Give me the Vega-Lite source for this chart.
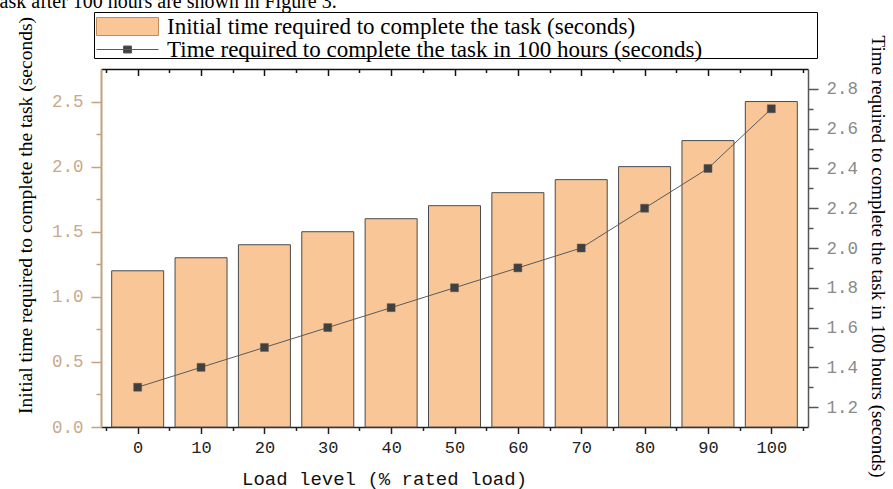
{
  "$schema": "https://vega.github.io/schema/vega-lite/v6.json",
  "width": 707,
  "height": 358,
  "autosize": "none",
  "padding": {"left": 101, "top": 69, "right": 85, "bottom": 62},
  "background": "white",
  "title": {
    "text": "task after 100 hours are shown in Figure 3.",
    "anchor": "start",
    "frame": "group",
    "orient": "top",
    "font": "Liberation Serif",
    "fontSize": 20,
    "fontWeight": "normal",
    "color": "#000000",
    "baseline": "alphabetic",
    "dx": -107,
    "dy": 21,
    "offset": 5
  },
  "data": {
    "values": [
      {"load": 0, "initial": 1.2, "hours100": 1.3},
      {"load": 10, "initial": 1.3, "hours100": 1.4},
      {"load": 20, "initial": 1.4, "hours100": 1.5},
      {"load": 30, "initial": 1.5, "hours100": 1.6},
      {"load": 40, "initial": 1.6, "hours100": 1.7},
      {"load": 50, "initial": 1.7, "hours100": 1.8},
      {"load": 60, "initial": 1.8, "hours100": 1.9},
      {"load": 70, "initial": 1.9, "hours100": 2.0},
      {"load": 80, "initial": 2.0, "hours100": 2.2},
      {"load": 90, "initial": 2.2, "hours100": 2.4},
      {"load": 100, "initial": 2.5, "hours100": 2.7}
    ]
  },
  "resolve": {
    "scale": {"y": "independent"},
    "axis": {"x": "independent", "y": "independent"}
  },
  "layer": [
    {
      "mark": {"type": "bar", "orient": "vertical", "width": 52, "stroke": "#4a4a4a", "strokeWidth": 1},
      "encoding": {
        "x": {
          "field": "load", "type": "quantitative",
          "scale": {"domain": [-5, 105], "nice": false, "zero": false},
          "axis": {
            "orient": "bottom", "values": [0, 10, 20, 30, 40, 50, 60, 70, 80, 90, 100], "format": "d",
            "grid": false, "tickSize": 6.5, "tickWidth": 1.5, "tickColor": "#222222",
            "domainColor": "#222222", "domainWidth": 1.5,
            "labelFont": "Liberation Mono", "labelFontSize": 17, "labelColor": "#222222",
            "labelBaseline": "alphabetic", "labelPadding": 19,
            "title": "Load level (% rated load)", "titleFont": "Liberation Mono", "titleFontSize": 19,
            "titleFontWeight": "normal", "titleColor": "#111111", "titleX": 283, "titleY": 57,
            "titleBaseline": "alphabetic"
          }
        },
        "y": {
          "field": "initial", "type": "quantitative",
          "scale": {"domain": [0, 2.75], "nice": false},
          "axis": {
            "orient": "left", "values": [0, 0.5, 1, 1.5, 2, 2.5], "format": ".1f", "grid": false,
            "tickSize": 10, "tickWidth": 1.5, "tickColor": "#C4A07E",
            "domainColor": "#C4A07E", "domainWidth": 2,
            "labelFont": "Liberation Mono", "labelFontSize": 17.5, "labelColor": "#C9A98B", "labelPadding": 8,
            "title": "Initial time required to complete the task (seconds)", "titleFont": "Liberation Serif",
            "titleFontSize": 19.5, "titleFontWeight": "normal", "titleColor": "#000000",
            "titleAngle": 270, "titleX": -70, "titleY": 146, "titleBaseline": "alphabetic"
          }
        },
        "fill": {
          "datum": "Initial time required to complete the task (seconds)",
          "scale": {"range": ["#F9C797"]},
          "legend": {
            "orient": "none", "legendX": -7, "legendY": -55, "direction": "vertical", "title": null,
            "labelFont": "Liberation Serif", "labelFontSize": 23, "labelColor": "#000000", "labelLimit": 0,
            "symbolSize": 400, "symbolOffset": 21, "labelOffset": 28, "padding": 1,
            "symbolType": "M-3.1,-0.9H3.1V0.9H-3.1Z",
            "symbolStrokeColor": "#C08A60", "symbolStrokeWidth": 1, "symbolOpacity": 1
          }
        }
      }
    },
    {
      "layer": [
        {
          "mark": {"type": "line", "color": "#5a5a5a", "strokeWidth": 1},
          "encoding": {
            "x": {"field": "load", "type": "quantitative", "axis": null},
            "y": {
              "field": "hours100", "type": "quantitative",
              "scale": {"domain": [1.1, 2.9], "nice": false, "zero": false},
              "axis": {
                "orient": "right", "values": [1.2, 1.4, 1.6, 1.8, 2.0, 2.2, 2.4, 2.6, 2.8], "format": ".1f", "grid": false,
                "tickSize": 10, "tickWidth": 1.5, "tickColor": "#555555",
                "domainColor": "#555555", "domainWidth": 1.5,
                "labelFont": "Liberation Mono", "labelFontSize": 17.5, "labelColor": "#8a8a8a", "labelPadding": 8,
                "title": "Time required to complete the task in 100 hours (seconds)", "titleFont": "Liberation Serif",
                "titleFontSize": 19, "titleFontWeight": "normal", "titleColor": "#000000",
                "titleAngle": 90, "titleX": 63, "titleY": 187, "titleBaseline": "alphabetic"
              }
            }
          }
        },
        {
          "mark": {"type": "point", "shape": "square", "filled": true, "fill": "#404040", "size": 64, "opacity": 1, "strokeWidth": 0.5},
          "encoding": {
            "x": {"field": "load", "type": "quantitative", "axis": null},
            "y": {"field": "hours100", "type": "quantitative"},
            "stroke": {
              "datum": "Time required to complete the task in 100 hours (seconds)",
              "scale": {"range": ["#5a5a5a"]},
              "legend": {
                "orient": "none", "legendX": -7, "legendY": -32, "direction": "vertical", "title": null,
                "labelFont": "Liberation Serif", "labelFontSize": 23, "labelColor": "#000000", "labelLimit": 0,
                "symbolSize": 400, "symbolOffset": 21, "labelOffset": 28, "padding": 1,
                "symbolType": "M-3.1,0H3.1M-0.4,-0.35H0.4V0.35H-0.4Z",
                "symbolFillColor": "#404040", "symbolStrokeWidth": 1, "symbolOpacity": 1
              }
            }
          }
        }
      ]
    },
    {
      "mark": {"type": "point", "opacity": 0},
      "encoding": {
        "x": {
          "field": "load", "type": "quantitative",
          "axis": {
            "orient": "bottom", "values": [-5, 5, 15, 25, 35, 45, 55, 65, 75, 85, 95, 105],
            "labels": false, "domain": false, "grid": false, "tickSize": 3.5, "tickWidth": 1.5,
            "tickColor": "#222222", "title": null
          }
        },
        "y": {
          "field": "initial", "type": "quantitative",
          "scale": {"domain": [0, 2.75], "nice": false},
          "axis": {
            "orient": "left", "values": [0.25, 0.75, 1.25, 1.75, 2.25],
            "labels": false, "domain": false, "grid": false, "tickSize": 5, "tickWidth": 1.5,
            "tickColor": "#C4A07E", "title": null
          }
        }
      }
    },
    {
      "mark": {"type": "point", "opacity": 0},
      "encoding": {
        "x": {
          "field": "load", "type": "quantitative",
          "axis": {
            "orient": "top", "values": [0, 10, 20, 30, 40, 50, 60, 70, 80, 90, 100],
            "labels": false, "grid": false, "tickSize": -6.5, "tickWidth": 1.5, "tickColor": "#111111",
            "domainColor": "#111111", "domainWidth": 1.5, "title": null
          }
        },
        "y": {
          "field": "hours100", "type": "quantitative",
          "scale": {"domain": [1.1, 2.9], "nice": false, "zero": false},
          "axis": {
            "orient": "right", "values": [1.3, 1.5, 1.7, 1.9, 2.1, 2.3, 2.5, 2.7],
            "labels": false, "domain": false, "grid": false, "tickSize": 5, "tickWidth": 1.5,
            "tickColor": "#555555", "title": null
          }
        }
      }
    },
    {
      "mark": {"type": "point", "filled": false, "size": 0},
      "encoding": {
        "x": {
          "field": "load", "type": "quantitative",
          "axis": {
            "orient": "top", "values": [-5, 5, 15, 25, 35, 45, 55, 65, 75, 85, 95, 105],
            "labels": false, "domain": false, "grid": false, "tickSize": -3.5, "tickWidth": 1.5,
            "tickColor": "#111111", "title": null
          }
        },
        "opacity": {
          "datum": "legend frame",
          "scale": {"range": [0]},
          "legend": {
            "orient": "none", "legendX": -7, "legendY": -57, "title": null, "padding": 0,
            "labelExpr": "''", "labelFontSize": 1,
            "symbolSize": 400, "symbolOffset": 0,
            "symbolType": "M-1,-1H71.3V3.6H-1Z",
            "symbolFillColor": "transparent", "symbolStrokeColor": "#000000",
            "symbolStrokeWidth": 1, "symbolOpacity": 1
          }
        }
      }
    }
  ],
  "config": {
    "view": {"stroke": null},
    "axis": {"grid": false}
  }
}
